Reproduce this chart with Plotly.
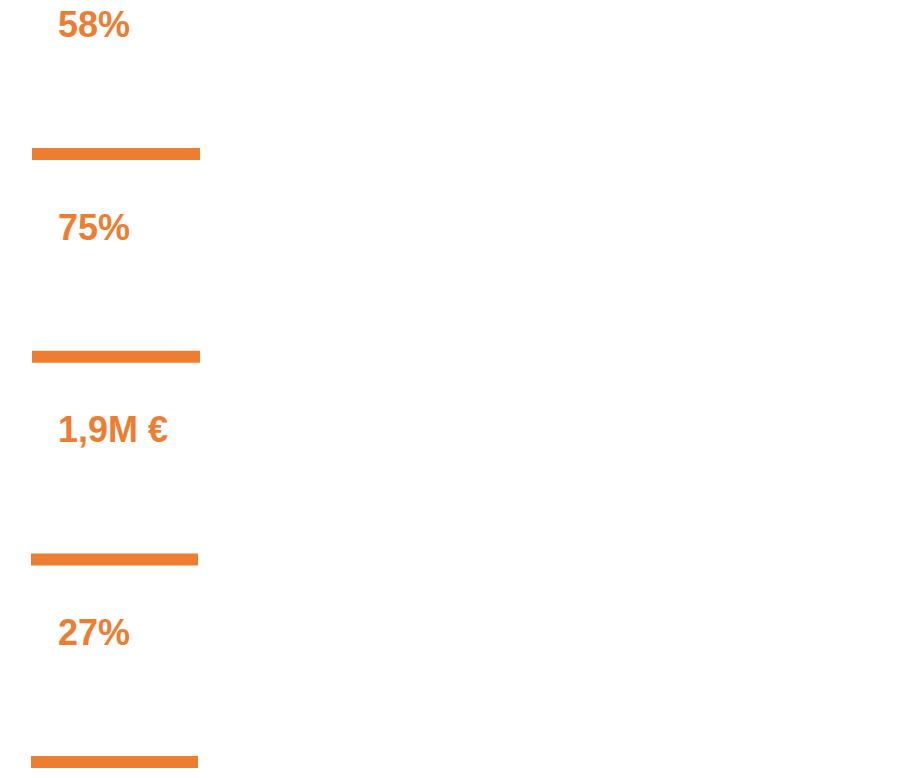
import plotly.graph_objects as go

# chiffres clés (de haut en bas)
values = ["58%", "75%", "1,9M €", "27%"]
# longueur des barres séparatrices sous chaque chiffre
bar_lengths = [168, 168, 167, 167]

orange = "#ED7D31"
off = 8           # marge du <body> dans la page
step = 202.7      # écart vertical entre deux blocs (px)
text_y0 = 24 - off + 4   # centre du premier chiffre
bar_y0 = 154 - off       # centre de la première barre

rows = list(range(len(values)))
text_y = [text_y0 + step * i for i in rows]
bar_y = [bar_y0 + step * i for i in rows]

fig = go.Figure()

fig.add_trace(go.Bar(
    y=bar_y,
    x=bar_lengths,
    base=[32 - off, 32 - off, 31 - off, 31 - off],
    orientation="h",
    width=12,
    marker=dict(color=orange, line=dict(width=0)),
    hoverinfo="skip",
))

fig.add_trace(go.Scatter(
    x=[58 - off] * len(values),
    y=text_y,
    mode="text",
    text=values,
    textposition="middle right",
    textfont=dict(family="Liberation Sans, Arial, sans-serif", size=36,
                  color=orange, weight="bold"),
    cliponaxis=False,
    hoverinfo="skip",
))

fig.update_layout(
    width=900,
    height=778,
    margin=dict(l=0, r=0, t=0, b=0),
    paper_bgcolor="white",
    plot_bgcolor="white",
    showlegend=False,
    xaxis=dict(range=[0, 900], visible=False, fixedrange=True),
    yaxis=dict(range=[778, 0], visible=False, fixedrange=True),
)

fig.write_html("out.html")
